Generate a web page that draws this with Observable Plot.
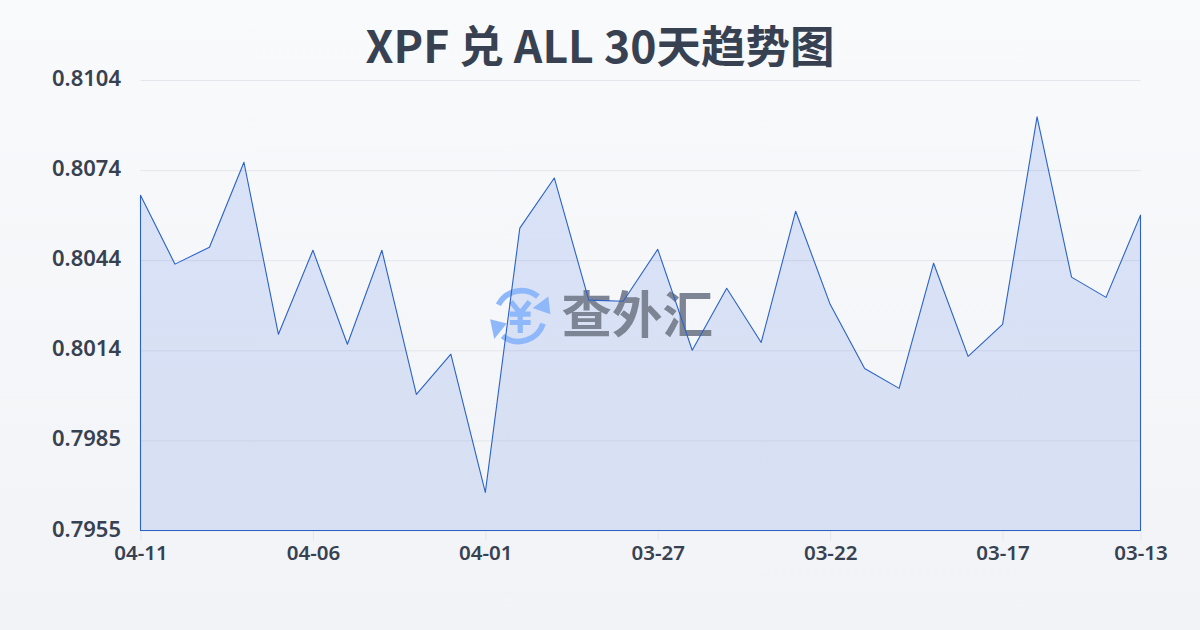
<!DOCTYPE html>
<html><head><meta charset="utf-8">
<script src="https://cdn.jsdelivr.net/npm/d3@7"></script>
<script src="https://cdn.jsdelivr.net/npm/@observablehq/plot@0.6"></script>
<style>
html,body{margin:0;padding:0}
body{width:1200px;height:630px;overflow:hidden;position:relative;background:linear-gradient(180deg,#f8fafc,#f1f3f6);font-family:"Noto Sans CJK SC","Noto Sans",sans-serif}
#title{position:absolute;left:0;top:0;width:1200px;height:90px;line-height:88px;text-align:center;font-size:44.5px;font-weight:700;color:#374151;}
#chart{position:absolute;left:0;top:70px}
svg{overflow:visible}
</style></head><body>
<div id="title">XPF 兑 ALL 30天趋势图</div>
<div id="chart"></div>
<script>
const dates = ["04-11","04-10","04-09","04-08","04-07","04-06","04-05","04-04","04-03","04-02","04-01","03-31","03-30","03-29","03-28","03-27","03-26","03-25","03-24","03-23","03-22","03-21","03-20","03-19","03-18","03-17","03-16","03-15","03-14","03-13"];
const rates = [0.80659,0.80431,0.80487,0.80768,0.80199,0.80477,0.80166,0.80477,0.80000,0.80133,0.79676,0.80550,0.80716,0.80312,0.80308,0.80480,0.80146,0.80351,0.80172,0.80606,0.80298,0.80086,0.80020,0.80434,0.80126,0.80232,0.80918,0.80388,0.80321,0.80593];
const yTicks = [0.7955,0.79848,0.80146,0.80444,0.80742,0.8104];
const yLabels = ["0.7955","0.7985","0.8014","0.8044","0.8074","0.8104"];
const xTicks = ["04-11","04-06","04-01","03-27","03-22","03-17","03-13"];
const rows = dates.map((d,i)=>({d,v:rates[i]}));
const gradient = () => {
  const defs = d3.create("svg:defs");
  const lg = defs.append("linearGradient").attr("id","areaFill").attr("x1",0).attr("y1",0).attr("x2",0).attr("y2",1);
  lg.append("stop").attr("offset","0%").attr("stop-color","#2f63e0").attr("stop-opacity",0.15);
  lg.append("stop").attr("offset","100%").attr("stop-color","#3462d8").attr("stop-opacity",0.14);
  return defs.node();
};
const logo = () => {
  const g = d3.create("svg:g").attr("transform","translate(488,214) scale(1.04)").attr("fill","none").attr("stroke","#8fb8fb");
  g.append("path").attr("d","M10 20 A25 25 0 0 1 48 12").attr("stroke-width",5.5);
  g.append("path").attr("d","M58 12 L60 29 L43 23 Z").attr("fill","#8fb8fb").attr("stroke","none");
  g.append("path").attr("d","M53 38 A25 25 0 0 1 14 50").attr("stroke-width",5.5);
  g.append("path").attr("d","M2 34 L18 38 L6 53 Z").attr("fill","#8fb8fb").attr("stroke","none");
  g.append("path").attr("d","M22 17 L31 28 L40 17 M31 28 V47 M21 29 H41 M21 37 H41").attr("stroke-width",5);
  return g.node();
};
const chart = Plot.plot({
  width:1200,height:490,marginLeft:140.5,marginRight:59.5,marginTop:10,marginBottom:29.5,
  style:{background:"transparent",fontFamily:"'Noto Sans','Noto Sans CJK SC',sans-serif"},
  x:{type:"point",domain:dates,padding:0,round:false,label:null},
  y:{domain:[0.7955,0.8104],label:null},
  marks:[
    gradient,
    Plot.ruleY(yTicks,{stroke:"#e3e6eb",strokeWidth:1}),
    Plot.ruleX(xTicks,{y1:0.7955,y2:0.7955,insetBottom:-10,stroke:"#e3e6eb",strokeWidth:1}),
    Plot.areaY(rows,{x:"d",y1:0.7955,y2:"v",fill:"url(#areaFill)"}),
    logo,
    Plot.text(["查外汇"],{frameAnchor:"top-left",textAnchor:"start",lineAnchor:"middle",dx:420.5,dy:236,fontSize:50.5,fontWeight:700,fill:"#7d8494",fontFamily:"'Noto Sans CJK SC'"}),
    Plot.areaY(rows,{x:"d",y1:0.7955,y2:"v",fill:"none",stroke:"#2b62c8",strokeWidth:1.1}),
    Plot.axisY(yTicks,{anchor:"left",tickSize:0,tickPadding:20,dy:-1.5,tickFormat:(d,i)=>yLabels[i],fontSize:22,fontWeight:600,fill:"#374151",label:null}),
    Plot.axisX(xTicks,{anchor:"bottom",tickSize:0,tickPadding:14,fontSize:20.5,fontWeight:600,fill:"#374151",label:null})
  ]
});
document.getElementById("chart").appendChild(chart);
</script>
</body></html>
